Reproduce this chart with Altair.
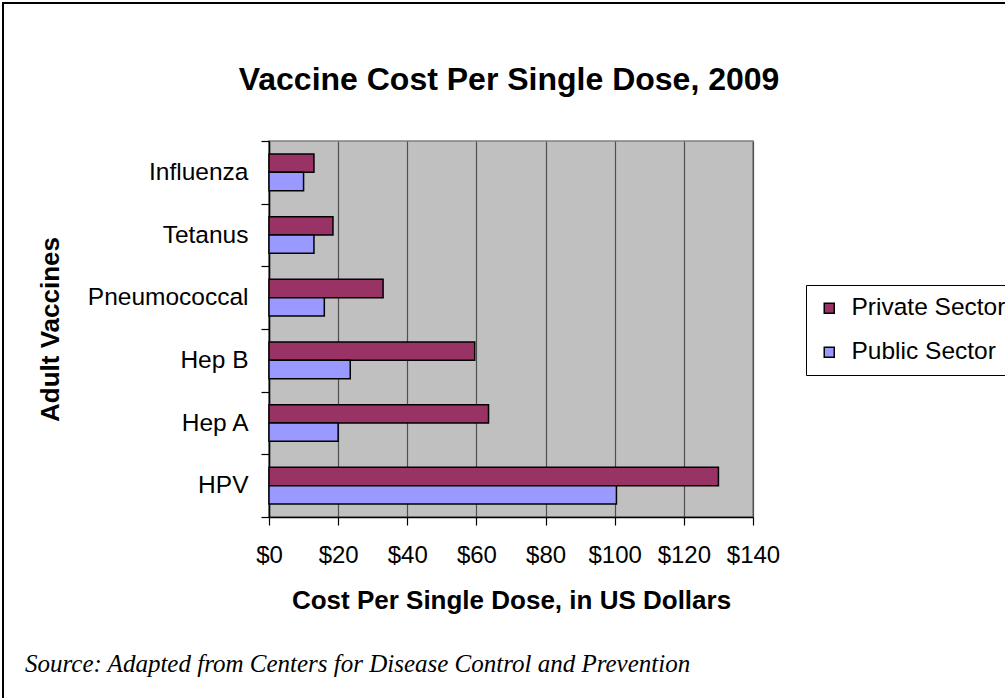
import altair as alt
import pandas as pd

vaccines = ["Influenza", "Tetanus", "Pneumococcal", "Hep B", "Hep A", "HPV"]
private_sector = [13, 18.5, 33, 59.5, 63.5, 130]
public_sector = [10, 13, 16, 23.5, 20, 100.5]
sectors = ["Private Sector", "Public Sector"]
colors = ["#993366", "#9999FF"]
x_ticks = [0, 20, 40, 60, 80, 100, 120, 140]
chart_title = ["Vaccine Cost Per Single Dose, 2009"]
source_text = ["Source: Adapted from Centers for Disease Control and Prevention"]

rows = []
for v, pr, pu in zip(vaccines, private_sector, public_sector):
    rows.append({"Vaccine": v, "Sector": sectors[0], "Cost": pr})
    rows.append({"Vaccine": v, "Sector": sectors[1], "Cost": pu})
df = pd.DataFrame(rows)

W, H = 484, 376
PL, PT = 269, 141
FONT = "Liberation Sans"

bars = alt.Chart(df).mark_bar(stroke="black", strokeWidth=1.5, opacity=1).encode(
    y=alt.Y(
        "Vaccine:N", sort=vaccines,
        scale=alt.Scale(paddingInner=0, paddingOuter=0),
        axis=alt.Axis(
            title="Adult Vaccines", tickBand="extent", grid=False,
            labelFont=FONT, labelFontSize=24.5, labelColor="black", labelPadding=13,
            tickSize=8, tickColor="black", tickWidth=1.2,
            domainColor="black", domainWidth=1.5,
            titleFont=FONT, titleFontSize=26, titleFontWeight="bold", titleColor="black",
            titleX=-206, titleY=188,
        ),
    ),
    yOffset=alt.YOffset("Sector:N", sort=sectors,
                        scale=alt.Scale(paddingInner=0, paddingOuter=0.71)),
    x=alt.X(
        "Cost:Q",
        scale=alt.Scale(domain=[0, 140], nice=False),
        axis=alt.Axis(
            values=x_ticks, format="$.0f", grid=True, gridColor="#505050", gridWidth=1.2,
            labelFont=FONT, labelFontSize=24, labelColor="black", labelPadding=18,
            labelOverlap=False, labelFlush=False,
            tickSize=8, tickColor="black", tickWidth=1.2,
            domainColor="black", domainWidth=1.5,
            title="Cost Per Single Dose, in US Dollars",
            titleFont=FONT, titleFontSize=26, titleFontWeight="bold", titleColor="black",
            titlePadding=20,
        ),
    ),
    color=alt.Color(
        "Sector:N", sort=sectors,
        scale=alt.Scale(domain=sectors, range=colors),
        legend=alt.Legend(
            title=None, orient="none", legendX=537, legendY=144,
            fillColor="white", strokeColor="black", padding=11,
            symbolType="square", symbolSize=100, symbolStrokeColor="black",
            symbolStrokeWidth=1.5, symbolOpacity=1,
            labelFont=FONT, labelFontSize=24.5, labelColor="black",
            labelOffset=10, rowPadding=19, labelLimit=400,
        ),
    ),
)

frame = alt.Chart(pd.DataFrame({"k": [0]})).mark_rect(
    fillOpacity=0, stroke="black", strokeWidth=2
).encode(
    x=alt.value(3 - PL), x2=alt.value(1005 - PL + 20),
    y=alt.value(3 - PT), y2=alt.value(698 - PT + 20),
)

title = alt.Chart(pd.DataFrame({"t": chart_title})).mark_text(
    align="center", baseline="alphabetic", font=FONT, fontWeight="bold",
    fontSize=32, color="black"
).encode(
    x=alt.value(509 - PL), y=alt.value(90 - PT), text="t:N"
)

source = alt.Chart(pd.DataFrame({"t": source_text})).mark_text(
    align="left", baseline="alphabetic", font="Liberation Serif",
    fontStyle="italic", fontSize=25, color="black"
).encode(
    x=alt.value(25 - PL), y=alt.value(672 - PT), text="t:N"
)

chart = alt.layer(frame, bars, title, source).properties(
    width=W, height=H,
    autosize=alt.AutoSizeParams(type="none"),
    padding={"left": PL, "top": PT, "right": 1005 - PL - W, "bottom": 698 - PT - H},
).configure(background="white").configure_view(
    fill="#C0C0C0", stroke="#808080", strokeWidth=1.5
)

chart.save("out.html", embed_options={"renderer": "svg", "actions": False})
